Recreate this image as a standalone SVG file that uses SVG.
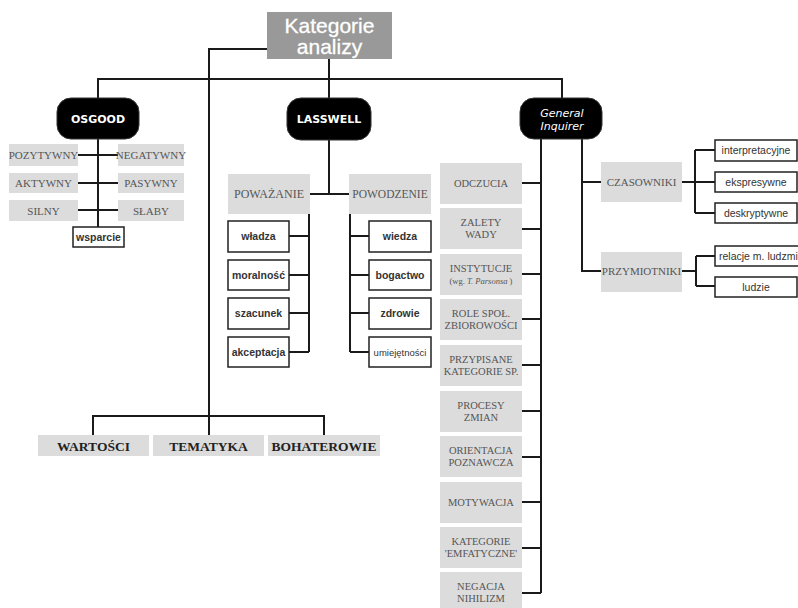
<svg xmlns="http://www.w3.org/2000/svg" width="798" height="608" viewBox="0 0 798 608">
<style>
.ln{fill:none;stroke:#1a1a1a;stroke-width:2}
.pill{fill:#000;stroke:#333;stroke-width:1}
.pt{font-family:"DejaVu Sans","Liberation Sans",sans-serif;font-weight:bold;font-size:11px;fill:#fff;text-anchor:middle}
.pi{font-family:"DejaVu Sans","Liberation Sans",sans-serif;font-style:italic;font-size:11px;fill:#fff;text-anchor:middle}
.gb{fill:#dcdcdc}
.gt{font-family:"Liberation Serif",serif;font-size:11px;fill:#555;text-anchor:middle}
.gs{font-family:"Liberation Serif",serif;font-size:10.5px;fill:#555;text-anchor:middle}
.bt{font-family:"Liberation Serif",serif;font-size:13.5px;font-weight:bold;fill:#222;text-anchor:middle}
.wb{fill:#fff;stroke:#222;stroke-width:1.5}
.wt{font-family:"Liberation Sans",sans-serif;font-size:10.5px;font-weight:bold;fill:#333;text-anchor:middle}
.wn{font-family:"Liberation Sans",sans-serif;font-size:10.5px;fill:#333;text-anchor:middle}
.ws{font-family:"Liberation Sans",sans-serif;font-size:10.5px;fill:#333}
</style>
<rect width="798" height="608" fill="#fff"/>
<g id="connectors">
<path class="ln" d="M267 49H209V437"/>
<path class="ln" d="M329 59V98"/>
<path class="ln" d="M98 98V79H562V98"/>
<path class="ln" d="M93 435V416H324V435"/>
<path class="ln" d="M98 139V227"/>
<path class="ln" d="M78 155H118M78 183H118M78 210H118"/>
<path class="ln" d="M329 140V194M310 194H349"/>
<path class="ln" d="M309 214V352M289 236H309M289 275H309M289 313H309M289 352H309"/>
<path class="ln" d="M350 214V352M350 236H369M350 275H369M350 313H369M350 352H369"/>
<path class="ln" d="M541 139V593M522 183H541M522 229H541M522 274H541M522 319H541M522 365H541M522 411H541M522 457H541M522 502H541M522 548H541M522 593H541"/>
<path class="ln" d="M582 139V271H601M582 182H601"/>
<path class="ln" d="M682 182H695M695 150V213M695 150H715M695 182H715M695 213H715"/>
<path class="ln" d="M682 271H696M696 256V286M696 256H715M696 286H715"/>
</g>
<g id="kategorie">
<rect x="267" y="12" width="125" height="47" fill="#999"/>
<text x="329.5" y="33" font-family="Liberation Sans,sans-serif" font-size="21" fill="#fff" stroke="#fff" stroke-width="0.3" text-anchor="middle">Kategorie</text>
<text x="329.5" y="54" font-family="Liberation Sans,sans-serif" font-size="21" fill="#fff" stroke="#fff" stroke-width="0.3" text-anchor="middle">analizy</text>
</g>
<g id="osgood"><rect class="pill" x="57" y="98" width="82" height="41" rx="14"/><text class="pt" x="98" y="123">OSGOOD</text></g>
<g id="lasswell"><rect class="pill" x="287" y="98" width="84" height="42" rx="14"/><text class="pt" x="329" y="123">LASSWELL</text></g>
<g id="general-inquirer"><rect class="pill" x="520" y="98" width="82" height="41" rx="14"/><text class="pi" x="562" y="117">General</text><text class="pi" x="562" y="130">Inquirer</text></g>
<g id="pozytywny"><rect class="gb" x="9" y="144" width="69" height="22"/><text class="gt" x="43.5" y="159">POZYTYWNY</text></g>
<g id="negatywny"><rect class="gb" x="118" y="144" width="66" height="22"/><text class="gt" x="151" y="159">NEGATYWNY</text></g>
<g id="aktywny"><rect class="gb" x="9" y="173" width="69" height="20"/><text class="gt" x="43.5" y="187">AKTYWNY</text></g>
<g id="pasywny"><rect class="gb" x="118" y="173" width="66" height="20"/><text class="gt" x="151" y="187">PASYWNY</text></g>
<g id="silny"><rect class="gb" x="9" y="200" width="69" height="21"/><text class="gt" x="43.5" y="215">SILNY</text></g>
<g id="slaby"><rect class="gb" x="118" y="200" width="66" height="21"/><text class="gt" x="151" y="215">SŁABY</text></g>
<g id="wsparcie"><rect class="wb" x="73" y="227" width="51" height="20"/><text class="wt" x="98.5" y="241">wsparcie</text></g>
<g id="powazanie"><rect class="gb" x="228" y="174" width="82" height="40"/><text class="gt" x="269" y="198" style="font-size:12px">POWAŻANIE</text></g>
<g id="powodzenie"><rect class="gb" x="349" y="174" width="82" height="40"/><text class="gt" x="390" y="198" style="font-size:11.5px">POWODZENIE</text></g>
<g id="wladza"><rect class="wb" x="228" y="221" width="61" height="31"/><text class="wt" x="258.5" y="240">władza</text></g>
<g id="moralnosc"><rect class="wb" x="228" y="260" width="61" height="30"/><text class="wt" x="258.5" y="279">moralność</text></g>
<g id="szacunek"><rect class="wb" x="228" y="298" width="61" height="31"/><text class="wt" x="258.5" y="317">szacunek</text></g>
<g id="akceptacja"><rect class="wb" x="228" y="337" width="61" height="30"/><text class="wt" x="258.5" y="356">akceptacja</text></g>
<g id="wiedza"><rect class="wb" x="369" y="221" width="62" height="31"/><text class="wt" x="400" y="240">wiedza</text></g>
<g id="bogactwo"><rect class="wb" x="369" y="260" width="62" height="30"/><text class="wt" x="400" y="279">bogactwo</text></g>
<g id="zdrowie"><rect class="wb" x="369" y="298" width="62" height="31"/><text class="wt" x="400" y="317">zdrowie</text></g>
<g id="umiejetnosci"><rect class="wb" x="369" y="337" width="62" height="30"/><text class="wn" x="400" y="356" style="font-size:9.5px">umiejętności</text></g>
<g id="odczucia"><rect class="gb" x="440" y="163" width="82" height="41"/><text class="gs" x="481" y="187">ODCZUCIA</text></g>
<g id="zalety"><rect class="gb" x="440" y="208" width="82" height="41"/><text class="gs" x="481" y="226">ZALETY</text><text class="gs" x="481" y="238">WADY</text></g>
<g id="instytucje"><rect class="gb" x="440" y="254" width="82" height="41"/><text class="gs" x="481" y="272">INSTYTUCJE</text><text class="gs" x="481" y="284" style="font-size:8.5px">(wg. <tspan font-style="italic">T. Parsonsa</tspan> )</text></g>
<g id="role"><rect class="gb" x="440" y="299" width="82" height="41"/><text class="gs" x="481" y="317">ROLE SPOŁ.</text><text class="gs" x="481" y="329">ZBIOROWOŚCI</text></g>
<g id="przypisane"><rect class="gb" x="440" y="345" width="82" height="41"/><text class="gs" x="481" y="363">PRZYPISANE</text><text class="gs" x="481" y="375">KATEGORIE SP.</text></g>
<g id="procesy"><rect class="gb" x="440" y="391" width="82" height="41"/><text class="gs" x="481" y="409">PROCESY</text><text class="gs" x="481" y="421">ZMIAN</text></g>
<g id="orientacja"><rect class="gb" x="440" y="436" width="82" height="41"/><text class="gs" x="481" y="454">ORIENTACJA</text><text class="gs" x="481" y="466">POZNAWCZA</text></g>
<g id="motywacja"><rect class="gb" x="440" y="482" width="82" height="41"/><text class="gs" x="481" y="506">MOTYWACJA</text></g>
<g id="kategorie-emfatyczne"><rect class="gb" x="440" y="527" width="82" height="41"/><text class="gs" x="481" y="545">KATEGORIE</text><text class="gs" x="481" y="557">'EMFATYCZNE'</text></g>
<g id="negacja"><rect class="gb" x="440" y="572" width="82" height="40"/><text class="gs" x="481" y="590">NEGACJA</text><text class="gs" x="481" y="602">NIHILIZM</text></g>
<g id="czasowniki"><rect class="gb" x="601" y="162" width="81" height="40"/><text class="gt" x="641.5" y="186">CZASOWNIKI</text></g>
<g id="przymiotniki"><rect class="gb" x="601" y="252" width="81" height="40"/><text class="gt" x="641.5" y="275">PRZYMIOTNIKI</text></g>
<g id="interpretacyjne"><rect class="wb" x="715" y="140" width="82" height="21"/><text class="wn" x="756" y="154">interpretacyjne</text></g>
<g id="ekspresywne"><rect class="wb" x="715" y="172" width="82" height="20"/><text class="wn" x="756" y="186">ekspresywne</text></g>
<g id="deskryptywne"><rect class="wb" x="715" y="203" width="82" height="20"/><text class="wn" x="756" y="217">deskryptywne</text></g>
<g id="relacje"><rect class="wb" x="715" y="246" width="85" height="20"/><text class="ws" x="719" y="260">relacje m. ludzmi</text></g>
<g id="ludzie"><rect class="wb" x="715" y="277" width="82" height="20"/><text class="wn" x="756" y="291">ludzie</text></g>
<g id="wartosci"><rect class="gb" x="38" y="435" width="111" height="21"/><text class="bt" x="93.5" y="451">WARTOŚCI</text></g>
<g id="tematyka"><rect class="gb" x="153" y="435" width="111" height="21"/><text class="bt" x="208.5" y="451">TEMATYKA</text></g>
<g id="bohaterowie"><rect class="gb" x="268" y="435" width="112" height="21"/><text class="bt" x="324" y="451">BOHATEROWIE</text></g>
</svg>
